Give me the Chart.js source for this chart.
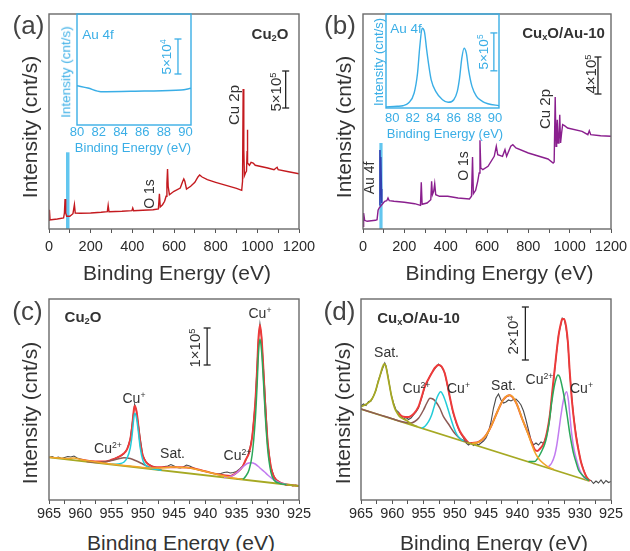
<!DOCTYPE html>
<html><head><meta charset="utf-8">
<script src="https://cdn.jsdelivr.net/npm/chart.js@4.4.1/dist/chart.umd.min.js"></script>
<style>
html,body{margin:0;padding:0;background:#fff}
body{position:relative;width:630px;height:551px;overflow:hidden;font-family:"Liberation Sans",Arial,Helvetica,sans-serif;color:#333}
.cv{position:absolute}
.t{position:absolute;white-space:nowrap;line-height:1;transform:translate(-50%,-50%)}
.t.r{transform:translate(-50%,-50%) rotate(-90deg)}
sup{font-size:0.62em;vertical-align:0;position:relative;top:-0.55em}
sub{font-size:0.62em;vertical-align:0;position:relative;top:0.25em}
.b{font-weight:bold}
.bl{color:#3aaee6}
</style></head><body>
<script>
// ---------------- DATA ----------------
// (a) Cu2O survey spectrum (binding energy, eV / intensity, arb.)
const aBE  = [0,2,5,10,40,70,74,77,80,85,100,115,122,126,150,200,250,280,284,288,350,398,402,406,450,500,525,530,534,545,555,562,566,569,572,578,600,630,642,647,652,660,680,700,715,723,735,760,800,850,900,925,929,932,935,938,943,948,951,952,954,962,970,980,990,1050,1080,1090,1095,1100,1150,1200];
const aInt = [8.7,19.3,9.3,9.3,10,11,16,30,16,12.7,12.7,15.3,24.3,16,15.7,16,16.7,17.3,23.7,17.3,17.7,18.3,21,18.3,18.7,19.3,20,35.3,22,24.3,27.7,32.7,46,60,42.7,34.3,37.7,41,47.7,50,47.7,40,42.7,46.7,52,54,52,49.3,46.7,43.7,40.7,38.7,47.7,140,79.3,53.3,56,58,78,99.3,66,63.7,66.7,66,63.7,61,59.3,61,61.7,59.3,57.3,55.3];
// (b) CuxO/Au-10 survey spectrum
const bBE  = [0,3,8,20,60,68,73,78,95,105,115,121,127,150,200,250,278,282,286,310,328,332,336,342,347,352,370,410,460,515,525,530,534,545,555,562,566,570,580,605,635,645,652,675,687,695,715,725,740,800,895,920,925,930,934,937,940,944,948,952,956,961,966,975,990,1060,1088,1095,1102,1150,1200];
const bInt = [2.7,16,8.7,7.7,8.7,9.3,18.7,21,25.3,27.7,28.3,31,28.3,27.7,26.7,25.3,23.7,46.7,24.7,26,29.3,47.7,34.3,37.7,45.3,34.3,32.7,32.7,31,30,32.7,72,35.3,38.7,47.7,56,88.7,61,59.3,62.7,72.7,82.7,74.3,72.7,79.3,72.7,82.7,84.3,81,76,70,66,67,132,82.7,96,109.3,86,89.3,114.3,86,96,104.3,103.3,101,97.7,94.3,98.3,94.3,93.3,92.7];
// Au 4f region of (b), highlighted
const bAuBE  = [79,82,83.5,85,87,89,91];
const bAuInt = [24,79,50,45,72,40,26];
// highlighted Au 4f window (eV, height)
const aAuMark = [90, 76.7];
const bAuMark = [87, 86];
// insets: Au 4f high-resolution
const iaBE  = [80,81,82.2,86.2,89.6,90.5];
const iaInt = [39.3,37,33.3,34,35,36.7];
const ibBE  = [79.38,80.49,81.04,81.59,82.14,82.47,82.69,82.92,83.14,83.36,83.58,83.8,84.24,84.9,85.45,86.0,86.34,86.56,86.78,87.0,87.22,87.44,87.77,88.21,88.77,89.32,90.42];
const ibInt = [1,1.7,2.3,5,15,35,61.7,80,76.7,58.3,41.7,28.3,16.7,8.3,5.7,8.3,16.7,30,50,60,55,38.3,21.7,11.7,6.7,4.3,2.3];

// (c) Cu2O Cu 2p
const cData = [[965,42.5],[964.5,43.5],[964,42],[963.5,43],[963,41.5],[962.5,42.5],[962,43.5],[961.5,43],[961,44],[960.5,42],[960,41],[959.5,40],[959,39.5],[958.5,39],[958,38],[957.5,37.5],[957,38.5],[956.5,37.5],[956,38],[955.5,39],[955,40],[954.5,41.5],[954,43],[953.5,44],[953,46.5],[952.5,51],[952,61],[951.5,86],[951.3,95.5],[951,89],[950.5,66],[950,45],[949.5,38],[949,35.5],[948.5,34],[948,33],[947.5,32],[947,32.5],[946.5,33.5],[946,34],[945.5,35.5],[945,34],[944.5,32.5],[944,32],[943.5,33],[943,35],[942.5,34],[942,32.5],[941.5,31],[941,30],[940.5,29.5],[940,28.5],[939.5,28],[939,27],[938.5,26.5],[938,26],[937.5,26.5],[937,27.5],[936.5,28],[936,27],[935.5,27.5],[935,28.5],[934.5,31],[934,34],[933.5,40],[933,47.5],[932.5,63],[932,97.5],[931.5,160],[931.25,176],[931,163.5],[930.5,113],[930,57.5],[929.5,33],[929,23.5],[928.5,19.5],[928,17.5],[927.5,16],[927,14.5],[926.5,15.5],[926,14],[925.5,15],[925,13.5]];
const cEnvelope = [[960,40.5],[958,38.8],[956,38.5],[955,40.2],[954,42.7],[953,46.7],[952.5,50.8],[952,60.6],[951.7,73.2],[951.5,85.8],[951.3,94.2],[951,88.8],[950.7,74.1],[950.4,57.4],[950,44.6],[949.5,38.3],[949,35.3],[948,32.7],[946,32.7],[944,32.7],[942,31.7],[940,28.7],[938,25.7],[936,24.1],[935,27.3],[934,33.5],[933.5,40.5],[933,47],[932.5,62.5],[932,97],[931.7,131],[931.5,160],[931.25,175],[931,163],[930.7,131],[930.4,94],[930,57],[929.5,33],[929,23],[928,17.3],[927,15.5],[926,14.7],[925,14]];
const cCuPlus32  = [[935,21.2],[934,21],[933.5,24],[933,30],[932.5,45],[932,80],[931.7,115],[931.5,145],[931.25,161],[931,150],[930.7,120],[930.4,85],[930,50],[929.5,28],[929,20],[928,16.5],[927,15.5]];
const cCu2Plus32 = [[937,22.6],[936,23.5],[935,27],[934,33],[933.3,36.5],[932.7,37.3],[932,36],[931.25,32],[930.5,28],[930,25],[929,20],[928,17],[927,15.5]];
const cCuPlus12  = [[955,35.7],[954,36],[953.5,36.5],[953,38],[952.5,42],[952,52],[951.7,65],[951.5,78],[951.3,86.7],[951,82],[950.7,68],[950.4,52],[950,40],[949.5,34.5],[949,32.5],[948,30.7],[947,29.8]];
const cCu2Plus12 = [[959,38.4],[958,37.8],[957,37.6],[956,38.3],[955,39.5],[954,41],[953,42.3],[952,41.5],[951,39],[950,36],[949,33],[948,31],[947,29.9]];
const cSat = [[965,42.7],[962,41.5],[961,42],[960,40.5],[958,38.5],[956,36.7],[954,35.3],[952,33.9],[950,32.5],[948,32],[946,32.5],[945,33],[944,32.5],[943,32.5],[942,31.5],[941,30],[940,28.5],[939,27],[938,25.5],[937,24],[936,22.5],[935,21.5],[934,20.7]];
const cBackground = [[965,42.7],[925,14]];

// (d) CuxO/Au-10 Cu 2p
const dData = [[965,94],[964.6,96],[964.2,94.5],[963.8,98.5],[963.4,99],[963,104],[962.6,110],[962.2,120],[961.8,127],[961.4,134],[961.2,137],[961,134],[960.6,121],[960.2,106],[959.8,97],[959.4,90],[959,88],[958.6,84],[958.2,81],[957.8,82.5],[957.4,80.5],[957,82],[956.6,85],[956.2,88],[955.8,92],[955.3,102],[954.8,113],[954.2,121],[953.7,127],[953.2,131],[952.6,136],[952.1,133],[951.6,127],[951.2,115],[950.8,103],[950.3,88],[949.7,76],[949.2,68],[948.6,62],[948.2,57],[947.8,55],[947.4,57],[947,54.5],[946.6,56.5],[946.2,55],[945.8,57],[945.4,59],[945,62],[944.6,68],[944.2,78],[943.8,92],[943.4,102],[943,106],[942.6,100],[942.2,97],[941.8,98],[941.4,100],[941,99],[940.6,100.5],[940.2,101],[939.8,98.5],[939.4,95],[939,89],[938.6,80],[938.2,70],[937.8,60],[937.4,55],[937,57],[936.6,55],[936.2,58],[935.8,56.5],[935.4,63],[935,75],[934.6,93],[934.2,118],[933.8,142],[933.4,165],[933,176],[932.8,182],[932.5,181],[932.2,173],[931.9,157],[931.6,127],[931.3,104],[931,85],[930.6,66],[930.2,50],[929.8,38],[929.4,30.5],[929,24],[928.6,20],[928.2,19.5],[927.8,16.5],[927.4,19],[927,17],[926.6,20],[926.2,16.5],[925.8,19.5],[925.4,17.5],[925,18.5]];
const dEnvBE  = [959,958.6,958.2,957.6,957.2,956.6,955.8,955.3,954.8,954.2,953.7,953.2,952.6,952.1,951.6,951.2,950.8,950.3,949.7,949.2,948.6,948,947.6,947.2,946.2,945.2,944.2,943.2,942.2,941.2,940.2,939.2,938.2,937.7,937.2,936.8,936.4,936,935.6,935.2,934.8,934.5,934.2,933.9,933.6,933.3,933,932.8,932.5,932.2,931.9,931.6,931.3,931,930.6,930.2,929.8,929.4,929,928.6,928.3];
const dEnvInt = [87,84.5,83.3,83,83.3,86,93.3,103,113.3,121,126.7,132,135,133.5,126.7,116,103.3,89,76.7,69,63.3,58.5,56.7,57,58,63,73.5,88,100.6,104.7,97.5,81,65.6,57.5,50.5,49,51,54,59,69,84,102,120,137,154,168,177,181,181,174,158,128,103,84,64,50,38,30,24,20.5,19];
const dSatHigh = [[965,93.5],[964.4,95],[963.6,98.3],[963.2,101.5],[962.8,106.7],[962.4,115],[962,123.3],[961.6,132],[961.3,136],[961,133],[960.6,120],[960.1,103.3],[959.6,91.7],[959.2,87],[958.8,83.3],[958.2,81],[957.7,79.5],[957,76],[956,73.5]];
const dCu2Plus12 = [[965,91],[962,85.1],[960,81.2],[958.2,78],[957,77],[956.4,78.5],[955.8,81.7],[955,90],[954.5,96.5],[953.96,101.7],[953.5,101],[953,98],[952.4,92],[951.8,83.3],[951,76],[950.2,68.3],[949.6,64],[949.2,61.7],[948.6,59.5],[948,57.8]];
const dCuPlus12  = [[955.3,71.9],[954.8,73.5],[954.2,78.3],[953.7,85],[953.3,93.3],[952.8,103],[952.25,108.3],[951.8,104],[951.2,93.3],[950.7,83],[950.2,73.3],[949.7,66],[949.2,61.7],[948.6,59]];
const dSatLow = [[947.2,56.7],[946.2,57.8],[945.2,63],[944.7,67.5],[944.2,73.5],[943.7,80.5],[943.2,88],[942.7,95],[942.2,100.6],[941.7,103.8],[941.2,104.7],[940.7,103],[940.2,97.5],[939.7,90],[939.2,81],[938.7,73],[938.2,65],[937.7,56],[937.2,48],[936.7,42.5],[936.2,38.7],[935.2,33.7],[934.2,30.7]];
const dCu2Plus32 = [[938.2,38.5],[937.2,38.5],[936.8,41],[936.4,45],[936,50],[935.6,56],[935.3,63],[934.9,77],[934.5,97],[934.1,113],[933.8,121],[933.5,125],[933.2,123],[932.8,113],[932.4,100],[932,84],[931.6,66.7],[931.3,56],[931,46.7],[930.6,38],[930.2,30],[929.6,25],[929,21.5],[928.5,19.5]];
const dCuPlus32  = [[935,33.3],[934.5,37],[934,45],[933.7,54],[933.4,66.7],[933,85],[932.6,100],[932.1,108.3],[931.8,99],[931.6,86],[931.3,66.7],[930.9,50],[930.5,40],[930,30],[929.4,23.3],[928.8,20]];
const dBackground = [[965,91],[928.5,19]];

// intensity scale bars: [energy, from, to] in data units
const aBarSpec  = [1136,121,158];   // 5x10^5
const bBarSpec  = [1137,135,172];   // 4x10^5
const cBarSpec  = [939.7,135,172];  // 1x10^5
const dBarSpec  = [938.7,140,193];  // 2x10^4
const iaBarSpec = [89.3,51,86];     // 5x10^4
const ibBarSpec = [89.9,37.3,75.3]; // 5x10^5

// axes: [min, max, step, labelEvery]
const surveyAxis = [0,1200,100,200];
const cu2pAxis   = [925,965,2.5,5];
const insetAAxis = [80,90.5,2,2];
const insetBAxis = [79.4,90.4,2,2];

// ---------------- DRAWING ----------------
const FONT = '"Liberation Sans", Arial, Helvetica, sans-serif';
const zip = (xs, ys) => xs.map((x,i)=>({x, y: ys[i]}));
const pairs = p => p.map(([x,y])=>({x,y}));
function ln(data, color, w, smooth){ return {data, borderColor:color, borderWidth:w, pointRadius:0, fill:false, tension:0, cubicInterpolationMode: smooth?'monotone':'default'}; }
function bar(spec, color){ return {data:[{x:spec[0],y:spec[1]},{x:spec[0],y:spec[2]}], borderColor:color, borderWidth:1.3, pointStyle:'line', pointRadius:3.5, pointBorderColor:color, pointBorderWidth:1.3, pointBackgroundColor:color}; }
function mark(spec, color, w){ return {data:[{x:spec[0],y:0},{x:spec[0],y:spec[1]}], borderColor:color, borderWidth:w, pointRadius:0}; }

function makeChart(box, area, ax, reverse, yMax, datasets, o){
  const cv = document.createElement('canvas');
  cv.className='cv'; cv.width=box.w; cv.height=box.h;
  cv.style.left=box.l+'px'; cv.style.top=box.t+'px'; cv.style.width=box.w+'px'; cv.style.height=box.h+'px';
  document.body.appendChild(cv);
  const xH = box.t + box.h - area.b;
  const frame = {id:'frame', afterDatasetsDraw(c){ const a=c.chartArea, ctx=c.ctx; ctx.save(); ctx.strokeStyle=o.frame; ctx.lineWidth=o.frameW; ctx.strokeRect(a.left,a.top,a.right-a.left,a.bottom-a.top); ctx.restore(); }};
  return new Chart(cv, {type:'line', data:{datasets}, options:{
    responsive:false, maintainAspectRatio:false, animation:false, devicePixelRatio:1, events:[],
    layout:{padding:{left:area.l-box.l, right:box.l+box.w-area.r, top:area.t-box.t, bottom:0}},
    plugins:{legend:{display:false}, tooltip:{enabled:false}},
    scales:{
      x:{type:'linear', min:ax[0], max:ax[1], reverse:reverse,
        afterFit(s){ s.height=xH; s.paddingLeft=0; s.paddingRight=0; },
        ticks:{stepSize:ax[2], autoSkip:false, maxRotation:0, minRotation:0, includeBounds:false, padding:o.tickPad, color:o.tickColor, font:{family:FONT, size:o.tickSize},
          callback:v => (Math.abs(v/ax[3]-Math.round(v/ax[3]))<1e-6 ? String(v) : '')},
        grid:{display:o.marks, drawOnChartArea:false, drawTicks:o.marks, tickLength:4, color:'#555', lineWidth:1},
        border:{display:false}},
      y:{display:false, min:0, max:yMax}
    }}, plugins:[frame]});
}

const RED='#ee3a3a', GREEN='#2ba85a', CYAN='#22ccd8', BROWN='#8d5a55', ORANGE='#f2a52a', VIOLET='#c27cf0', OLIVE='#a6a923', DATA='#4a4a4a';
const INSET='#3aaee6', BAND='#62c6ef';
const mainOpt = {frame:'#6a6a6a', frameW:1.4, tickPad:5, tickColor:'#2a2a2a', tickSize:14.5, marks:true};
const lowOpt  = Object.assign({}, mainOpt, {tickPad:1.3});
const insOptA = {frame:INSET, frameW:1.4, tickPad:0, tickColor:INSET, tickSize:13, marks:false};
const insOptB = Object.assign({}, insOptA, {tickPad:2.5});

// (a)
makeChart({l:0,t:0,w:320,h:262},{l:49,t:14,r:299,b:229}, surveyAxis, false, 215, [
  bar(aBarSpec,'#222'),
  ln(zip(aBE,aInt),'#c41a1f',1.4,false),
  mark(aAuMark, BAND, 3.5)
], mainOpt);
// (b)
makeChart({l:315,t:0,w:315,h:262},{l:363,t:14,r:611,b:229}, surveyAxis, false, 215, [
  bar(bBarSpec,'#222'),
  ln(zip(bAuBE,bAuInt),'#3340b0',1.6,false),
  ln(zip(bBE,bInt),'#8a1f8e',1.4,false),
  mark(bAuMark, BAND, 3.2)
], mainOpt);
// (c)
makeChart({l:0,t:285,w:320,h:240},{l:49,t:299,r:299,b:500}, cu2pAxis, true, 201, [
  bar(cBarSpec,'#222'),
  ln(pairs(cSat),ORANGE,1.5,true),
  ln(pairs(cCuPlus32),GREEN,1.5,true),
  ln(pairs(cCu2Plus32),VIOLET,1.5,true),
  ln(pairs(cCuPlus12),CYAN,1.5,true),
  ln(pairs(cCu2Plus12),BROWN,1.5,true),
  ln(pairs(cBackground),OLIVE,1.8,false),
  ln(pairs(cEnvelope),RED,2,true),
  ln(pairs(cData),DATA,1.1,false)
], lowOpt);
// (d)
makeChart({l:315,t:285,w:315,h:240},{l:361,t:299,r:611,b:500}, cu2pAxis, true, 201, [
  bar(dBarSpec,'#222'),
  ln(pairs(dSatHigh),OLIVE,1.8,true),
  ln(pairs(dSatLow),ORANGE,1.6,true),
  ln(pairs(dCu2Plus32),GREEN,1.5,true),
  ln(pairs(dCuPlus32),VIOLET,1.5,true),
  ln(pairs(dCuPlus12),CYAN,1.5,true),
  ln(pairs(dCu2Plus12),BROWN,1.5,true),
  ln(pairs(dBackground),OLIVE,1.8,false),
  ln(zip(dEnvBE,dEnvInt),RED,2,true),
  ln(pairs(dData),DATA,1.1,false)
], lowOpt);
// insets
makeChart({l:40,t:5,w:170,h:145},{l:77,t:14,r:191,b:125}, insetAAxis, false, 111, [
  bar(iaBarSpec, INSET),
  ln(zip(iaBE,iaInt),INSET,1.5,true)
], insOptA);
makeChart({l:345,t:5,w:170,h:140},{l:386,t:14,r:499,b:108}, insetBAxis, false, 94.3, [
  bar(ibBarSpec, INSET),
  ln(zip(ibBE,ibInt),INSET,1.4,true)
], insOptB);

// ---------------- TEXT ----------------
const labels = [
  ['(a)',28.5,25,26,''],['(b)',340,25,26,''],['(c)',27.5,311,26,''],['(d)',339.5,311,26,''],
  ['Binding Energy (eV)',177,272,21,''],['Binding Energy (eV)',499.5,272,21,''],
  ['Binding Energy (eV)',181,542,21,''],['Binding Energy (eV)',494,542,21,''],
  ['Intensity (cnt/s)',29,127,21,'r'],['Intensity (cnt/s)',343,127,21,'r'],
  ['Intensity (cnt/s)',29,413,21,'r'],['Intensity (cnt/s)',342,413,21,'r'],
  ['Cu<sub>2</sub>O',270,34,15,'b'],['Cu<sub>x</sub>O/Au-10',563.5,33,15,'b'],
  ['Cu<sub>2</sub>O',83,317,15,'b'],['Cu<sub>x</sub>O/Au-10',418.5,318,15,'b'],
  ['Cu 2p',232.5,105,15,'r'],['O 1s',149,194,14,'r'],['5×10<sup>5</sup>',276,92,15,'r'],
  ['Cu 2p',544,109,15,'r'],['O 1s',463,166,14,'r'],['Au 4f',369,177.5,14,'r'],['4×10<sup>5</sup>',591,74,15,'r'],
  ['1×10<sup>5</sup>',195,347.5,15,'r'],['2×10<sup>4</sup>',512.5,335,15,'r'],
  ['Cu<sup>+</sup>',260,313,14,''],['Cu<sup>+</sup>',134,397.5,14,''],['Cu<sup>2+</sup>',108,448,14,''],
  ['Sat.',172.5,453,14,''],['Cu<sup>2+</sup>',237.5,455,14,''],
  ['Sat.',386.5,352,14,''],['Cu<sup>2+</sup>',416.5,387.5,14,''],['Cu<sup>+</sup>',458.5,388,14,''],
  ['Sat.',503.5,385,14,''],['Cu<sup>2+</sup>',539.5,379,14,''],['Cu<sup>+</sup>',581.5,388,14,''],
  ['Au 4f',98,35,13.5,'bl'],['5×10<sup>4</sup>',167,56.5,13.5,'r bl'],['Intensity (cnt/s)',66,72,13.5,'r bl'],['Binding Energy (eV)',133,147,13,'bl'],
  ['Au 4f',406,29,13.5,'bl'],['5×10<sup>5</sup>',484,52,13.5,'r bl'],['Intensity (cnt/s)',377.5,62,13,'r bl'],['Binding Energy (eV)',445,133,13,'bl']
];
for (const [h,x,y,s,c] of labels){
  const d=document.createElement('div'); d.className='t '+c; d.innerHTML=h;
  d.style.left=x+'px'; d.style.top=y+'px'; d.style.fontSize=s+'px';
  if (/^\([a-d]\)$/.test(h)) d.style.color='#444';
  document.body.appendChild(d);
}
</script>
</body></html>
